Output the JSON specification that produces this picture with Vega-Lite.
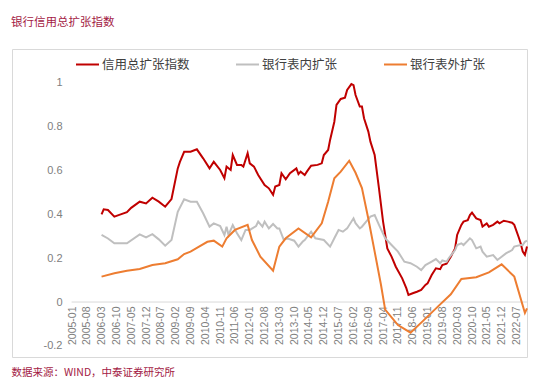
{
  "$schema": "https://vega.github.io/schema/vega-lite/v6.json",
  "width": 515,
  "height": 308,
  "autosize": "none",
  "padding": {"left": 12, "top": 49, "right": 23, "bottom": 24},
  "background": "white",
  "title": {"text": "银行信用总扩张指数", "anchor": "start", "frame": "group", "offset": 21, "fontSize": 11.5, "fontWeight": "normal", "color": "#A31A44", "font": "Noto Sans CJK SC", "dx": -1},
  "config": {"view": {"stroke": "#D9D9D9", "strokeWidth": 1}, "font": "Liberation Sans"},
  "encoding": {
    "x": {
      "field": "d", "type": "temporal",
      "scale": {"type": "utc", "domain": [{"year": 2002, "month": 8, "date": 21, "utc": true}, {"year": 2022, "month": 12, "date": 1, "utc": true}]},
      "axis": {
        "values": [
          {"year":2005,"month":1,"utc":true},{"year":2005,"month":8,"utc":true},{"year":2006,"month":3,"utc":true},{"year":2006,"month":10,"utc":true},
          {"year":2007,"month":5,"utc":true},{"year":2007,"month":12,"utc":true},{"year":2008,"month":7,"utc":true},{"year":2009,"month":2,"utc":true},
          {"year":2009,"month":9,"utc":true},{"year":2010,"month":4,"utc":true},{"year":2010,"month":11,"utc":true},{"year":2011,"month":6,"utc":true},
          {"year":2012,"month":1,"utc":true},{"year":2012,"month":8,"utc":true},{"year":2013,"month":3,"utc":true},{"year":2013,"month":10,"utc":true},
          {"year":2014,"month":5,"utc":true},{"year":2014,"month":12,"utc":true},{"year":2015,"month":7,"utc":true},{"year":2016,"month":2,"utc":true},
          {"year":2016,"month":9,"utc":true},{"year":2017,"month":4,"utc":true},{"year":2017,"month":11,"utc":true},{"year":2018,"month":6,"utc":true},
          {"year":2019,"month":1,"utc":true},{"year":2019,"month":8,"utc":true},{"year":2020,"month":3,"utc":true},{"year":2020,"month":10,"utc":true},
          {"year":2021,"month":5,"utc":true},{"year":2021,"month":12,"utc":true},{"year":2022,"month":7,"utc":true}
        ],
        "format": "%Y-%m",
        "labelAngle": -90,
        "offset": -55,
        "domain": false,
        "ticks": false,
        "grid": false,
        "labelPadding": 4,
        "labelFontSize": 10.5,
        "labelColor": "#808080",
        "labelFont": "Liberation Sans",
        "labelOverlap": false,
        "labelSeparation": 0,
        "labelFlush": false,
        "labelBound": false,
        "title": "数据来源：WIND，中泰证券研究所",
        "titleFont": "Noto Sans CJK SC",
        "titleFontSize": 10.5,
        "titleFontWeight": "normal",
        "titleColor": "#A31A44",
        "titleAnchor": "start",
        "titleAlign": "left",
        "titleBaseline": "middle",
        "titleX": -1,
        "titleY": 70
      }
    }
  },
  "layer": [
    {
      "data": {"values": [{"d": "2004-12-25", "d2": "2022-12-01"}]},
      "mark": {"type": "rule", "color": "#D9D9D9", "strokeWidth": 1},
      "encoding": {
        "x2": {"field": "d2"},
        "y": {"datum": 0, "type": "quantitative"}
      }
    },
    {
      "data": {"values": [
        {"d":"2006-03-01","s":"信用总扩张指数","v":0.40},
        {"d":"2006-04-01","s":"信用总扩张指数","v":0.423},
        {"d":"2006-06-01","s":"信用总扩张指数","v":0.42},
        {"d":"2006-09-01","s":"信用总扩张指数","v":0.39},
        {"d":"2006-12-01","s":"信用总扩张指数","v":0.40},
        {"d":"2007-03-01","s":"信用总扩张指数","v":0.41},
        {"d":"2007-05-01","s":"信用总扩张指数","v":0.43},
        {"d":"2007-09-01","s":"信用总扩张指数","v":0.458},
        {"d":"2007-12-01","s":"信用总扩张指数","v":0.45},
        {"d":"2008-03-01","s":"信用总扩张指数","v":0.476},
        {"d":"2008-06-01","s":"信用总扩张指数","v":0.458},
        {"d":"2008-09-01","s":"信用总扩张指数","v":0.435},
        {"d":"2008-12-01","s":"信用总扩张指数","v":0.47},
        {"d":"2009-03-01","s":"信用总扩张指数","v":0.61},
        {"d":"2009-04-01","s":"信用总扩张指数","v":0.64},
        {"d":"2009-06-01","s":"信用总扩张指数","v":0.686},
        {"d":"2009-09-01","s":"信用总扩张指数","v":0.686},
        {"d":"2009-12-01","s":"信用总扩张指数","v":0.697},
        {"d":"2010-03-01","s":"信用总扩张指数","v":0.656},
        {"d":"2010-06-01","s":"信用总扩张指数","v":0.61},
        {"d":"2010-08-01","s":"信用总扩张指数","v":0.64},
        {"d":"2010-11-01","s":"信用总扩张指数","v":0.603},
        {"d":"2011-01-01","s":"信用总扩张指数","v":0.565},
        {"d":"2011-02-01","s":"信用总扩张指数","v":0.618},
        {"d":"2011-04-01","s":"信用总扩张指数","v":0.603},
        {"d":"2011-05-01","s":"信用总扩张指数","v":0.671},
        {"d":"2011-07-01","s":"信用总扩张指数","v":0.626},
        {"d":"2011-09-01","s":"信用总扩张指数","v":0.626},
        {"d":"2011-10-01","s":"信用总扩张指数","v":0.618},
        {"d":"2011-12-01","s":"信用总扩张指数","v":0.679},
        {"d":"2012-01-01","s":"信用总扩张指数","v":0.633},
        {"d":"2012-03-01","s":"信用总扩张指数","v":0.618},
        {"d":"2012-05-01","s":"信用总扩张指数","v":0.58},
        {"d":"2012-08-01","s":"信用总扩张指数","v":0.534},
        {"d":"2012-10-01","s":"信用总扩张指数","v":0.519},
        {"d":"2012-12-01","s":"信用总扩张指数","v":0.489},
        {"d":"2013-01-01","s":"信用总扩张指数","v":0.527},
        {"d":"2013-03-01","s":"信用总扩张指数","v":0.534},
        {"d":"2013-04-01","s":"信用总扩张指数","v":0.588},
        {"d":"2013-06-01","s":"信用总扩张指数","v":0.56},
        {"d":"2013-08-01","s":"信用总扩张指数","v":0.588},
        {"d":"2013-11-01","s":"信用总扩张指数","v":0.61},
        {"d":"2013-12-01","s":"信用总扩张指数","v":0.584},
        {"d":"2014-01-01","s":"信用总扩张指数","v":0.595},
        {"d":"2014-03-01","s":"信用总扩张指数","v":0.58},
        {"d":"2014-04-01","s":"信用总扩张指数","v":0.595},
        {"d":"2014-06-01","s":"信用总扩张指数","v":0.622},
        {"d":"2014-09-01","s":"信用总扩张指数","v":0.626},
        {"d":"2014-11-01","s":"信用总扩张指数","v":0.633},
        {"d":"2014-12-01","s":"信用总扩张指数","v":0.671},
        {"d":"2015-02-01","s":"信用总扩张指数","v":0.694},
        {"d":"2015-03-01","s":"信用总扩张指数","v":0.74},
        {"d":"2015-05-01","s":"信用总扩张指数","v":0.823},
        {"d":"2015-06-01","s":"信用总扩张指数","v":0.9},
        {"d":"2015-08-01","s":"信用总扩张指数","v":0.927},
        {"d":"2015-10-01","s":"信用总扩张指数","v":0.933},
        {"d":"2015-11-01","s":"信用总扩张指数","v":0.968},
        {"d":"2016-01-01","s":"信用总扩张指数","v":0.995},
        {"d":"2016-02-01","s":"信用总扩张指数","v":0.99},
        {"d":"2016-03-01","s":"信用总扩张指数","v":0.945},
        {"d":"2016-05-01","s":"信用总扩张指数","v":0.892},
        {"d":"2016-06-01","s":"信用总扩张指数","v":0.892},
        {"d":"2016-07-01","s":"信用总扩张指数","v":0.839},
        {"d":"2016-09-01","s":"信用总扩张指数","v":0.778},
        {"d":"2016-10-01","s":"信用总扩张指数","v":0.732},
        {"d":"2016-12-01","s":"信用总扩张指数","v":0.671},
        {"d":"2017-02-01","s":"信用总扩张指数","v":0.519},
        {"d":"2017-04-01","s":"信用总扩张指数","v":0.367},
        {"d":"2017-06-01","s":"信用总扩张指数","v":0.245},
        {"d":"2017-08-01","s":"信用总扩张指数","v":0.207},
        {"d":"2017-10-01","s":"信用总扩张指数","v":0.161},
        {"d":"2018-01-01","s":"信用总扩张指数","v":0.108},
        {"d":"2018-03-01","s":"信用总扩张指数","v":0.063},
        {"d":"2018-04-01","s":"信用总扩张指数","v":0.032},
        {"d":"2018-06-01","s":"信用总扩张指数","v":0.04},
        {"d":"2018-08-01","s":"信用总扩张指数","v":0.047},
        {"d":"2018-10-01","s":"信用总扩张指数","v":0.055},
        {"d":"2018-12-01","s":"信用总扩张指数","v":0.078},
        {"d":"2019-01-01","s":"信用总扩张指数","v":0.085},
        {"d":"2019-03-01","s":"信用总扩张指数","v":0.123},
        {"d":"2019-05-01","s":"信用总扩张指数","v":0.154},
        {"d":"2019-07-01","s":"信用总扩张指数","v":0.15},
        {"d":"2019-08-01","s":"信用总扩张指数","v":0.169},
        {"d":"2019-10-01","s":"信用总扩张指数","v":0.175},
        {"d":"2019-12-01","s":"信用总扩张指数","v":0.207},
        {"d":"2020-02-01","s":"信用总扩张指数","v":0.245},
        {"d":"2020-03-01","s":"信用总扩张指数","v":0.306},
        {"d":"2020-05-01","s":"信用总扩张指数","v":0.352},
        {"d":"2020-06-01","s":"信用总扩张指数","v":0.367},
        {"d":"2020-08-01","s":"信用总扩张指数","v":0.374},
        {"d":"2020-09-01","s":"信用总扩张指数","v":0.397},
        {"d":"2020-10-01","s":"信用总扩张指数","v":0.408},
        {"d":"2020-12-01","s":"信用总扩张指数","v":0.382},
        {"d":"2021-02-01","s":"信用总扩张指数","v":0.374},
        {"d":"2021-03-01","s":"信用总扩张指数","v":0.344},
        {"d":"2021-05-01","s":"信用总扩张指数","v":0.359},
        {"d":"2021-06-01","s":"信用总扩张指数","v":0.344},
        {"d":"2021-08-01","s":"信用总扩张指数","v":0.352},
        {"d":"2021-10-01","s":"信用总扩张指数","v":0.367},
        {"d":"2021-11-01","s":"信用总扩张指数","v":0.359},
        {"d":"2022-01-01","s":"信用总扩张指数","v":0.371},
        {"d":"2022-03-01","s":"信用总扩张指数","v":0.367},
        {"d":"2022-05-01","s":"信用总扩张指数","v":0.362},
        {"d":"2022-06-01","s":"信用总扩张指数","v":0.352},
        {"d":"2022-08-01","s":"信用总扩张指数","v":0.298},
        {"d":"2022-09-01","s":"信用总扩张指数","v":0.268},
        {"d":"2022-10-01","s":"信用总扩张指数","v":0.23},
        {"d":"2022-11-01","s":"信用总扩张指数","v":0.215},
        {"d":"2022-12-01","s":"信用总扩张指数","v":0.253},

        {"d":"2006-03-01","s":"银行表内扩张","v":0.306},
        {"d":"2006-06-01","s":"银行表内扩张","v":0.29},
        {"d":"2006-09-01","s":"银行表内扩张","v":0.268},
        {"d":"2007-03-01","s":"银行表内扩张","v":0.268},
        {"d":"2007-09-01","s":"银行表内扩张","v":0.309},
        {"d":"2007-12-01","s":"银行表内扩张","v":0.295},
        {"d":"2008-03-01","s":"银行表内扩张","v":0.31},
        {"d":"2008-06-01","s":"银行表内扩张","v":0.286},
        {"d":"2008-09-01","s":"银行表内扩张","v":0.257},
        {"d":"2008-12-01","s":"银行表内扩张","v":0.283},
        {"d":"2009-03-01","s":"银行表内扩张","v":0.412},
        {"d":"2009-06-01","s":"银行表内扩张","v":0.469},
        {"d":"2009-09-01","s":"银行表内扩张","v":0.458},
        {"d":"2009-12-01","s":"银行表内扩张","v":0.458},
        {"d":"2010-03-01","s":"银行表内扩张","v":0.405},
        {"d":"2010-06-01","s":"银行表内扩张","v":0.344},
        {"d":"2010-08-01","s":"银行表内扩张","v":0.359},
        {"d":"2010-11-01","s":"银行表内扩张","v":0.347},
        {"d":"2011-01-01","s":"银行表内扩张","v":0.306},
        {"d":"2011-02-01","s":"银行表内扩张","v":0.344},
        {"d":"2011-03-01","s":"银行表内扩张","v":0.306},
        {"d":"2011-05-01","s":"银行表内扩张","v":0.351},
        {"d":"2011-07-01","s":"银行表内扩张","v":0.314},
        {"d":"2011-09-01","s":"银行表内扩张","v":0.283},
        {"d":"2011-11-01","s":"银行表内扩张","v":0.329},
        {"d":"2012-01-01","s":"银行表内扩张","v":0.329},
        {"d":"2012-04-01","s":"银行表内扩张","v":0.347},
        {"d":"2012-05-01","s":"银行表内扩张","v":0.367},
        {"d":"2012-07-01","s":"银行表内扩张","v":0.344},
        {"d":"2012-08-01","s":"银行表内扩张","v":0.367},
        {"d":"2012-10-01","s":"银行表内扩张","v":0.336},
        {"d":"2012-12-01","s":"银行表内扩张","v":0.356},
        {"d":"2013-02-01","s":"银行表内扩张","v":0.336},
        {"d":"2013-03-01","s":"银行表内扩张","v":0.336},
        {"d":"2013-05-01","s":"银行表内扩张","v":0.286},
        {"d":"2013-07-01","s":"银行表内扩张","v":0.29},
        {"d":"2013-10-01","s":"银行表内扩张","v":0.28},
        {"d":"2013-12-01","s":"银行表内扩张","v":0.253},
        {"d":"2014-02-01","s":"银行表内扩张","v":0.276},
        {"d":"2014-03-01","s":"银行表内扩张","v":0.283},
        {"d":"2014-06-01","s":"银行表内扩张","v":0.321},
        {"d":"2014-08-01","s":"银行表内扩张","v":0.291},
        {"d":"2014-12-01","s":"银行表内扩张","v":0.283},
        {"d":"2015-03-01","s":"银行表内扩张","v":0.253},
        {"d":"2015-05-01","s":"银行表内扩张","v":0.291},
        {"d":"2015-07-01","s":"银行表内扩张","v":0.329},
        {"d":"2015-09-01","s":"银行表内扩张","v":0.321},
        {"d":"2015-11-01","s":"银行表内扩张","v":0.336},
        {"d":"2016-02-01","s":"银行表内扩张","v":0.382},
        {"d":"2016-03-01","s":"银行表内扩张","v":0.36},
        {"d":"2016-05-01","s":"银行表内扩张","v":0.336},
        {"d":"2016-06-01","s":"银行表内扩张","v":0.344},
        {"d":"2016-08-01","s":"银行表内扩张","v":0.367},
        {"d":"2016-10-01","s":"银行表内扩张","v":0.39},
        {"d":"2016-12-01","s":"银行表内扩张","v":0.397},
        {"d":"2017-02-01","s":"银行表内扩张","v":0.352},
        {"d":"2017-05-01","s":"银行表内扩张","v":0.291},
        {"d":"2017-08-01","s":"银行表内扩张","v":0.26},
        {"d":"2017-11-01","s":"银行表内扩张","v":0.23},
        {"d":"2018-02-01","s":"银行表内扩张","v":0.184},
        {"d":"2018-05-01","s":"银行表内扩张","v":0.177},
        {"d":"2018-08-01","s":"银行表内扩张","v":0.161},
        {"d":"2018-10-01","s":"银行表内扩张","v":0.146},
        {"d":"2018-12-01","s":"银行表内扩张","v":0.169},
        {"d":"2019-03-01","s":"银行表内扩张","v":0.184},
        {"d":"2019-05-01","s":"银行表内扩张","v":0.196},
        {"d":"2019-07-01","s":"银行表内扩张","v":0.177},
        {"d":"2019-08-01","s":"银行表内扩张","v":0.19},
        {"d":"2019-10-01","s":"银行表内扩张","v":0.184},
        {"d":"2019-11-01","s":"银行表内扩张","v":0.2},
        {"d":"2020-02-01","s":"银行表内扩张","v":0.237},
        {"d":"2020-03-01","s":"银行表内扩张","v":0.26},
        {"d":"2020-05-01","s":"银行表内扩张","v":0.268},
        {"d":"2020-06-01","s":"银行表内扩张","v":0.26},
        {"d":"2020-08-01","s":"银行表内扩张","v":0.28},
        {"d":"2020-09-01","s":"银行表内扩张","v":0.291},
        {"d":"2020-10-01","s":"银行表内扩张","v":0.283},
        {"d":"2020-12-01","s":"银行表内扩张","v":0.245},
        {"d":"2021-02-01","s":"银行表内扩张","v":0.253},
        {"d":"2021-03-01","s":"银行表内扩张","v":0.23},
        {"d":"2021-05-01","s":"银行表内扩张","v":0.207},
        {"d":"2021-08-01","s":"银行表内扩张","v":0.214},
        {"d":"2021-10-01","s":"银行表内扩张","v":0.192},
        {"d":"2021-12-01","s":"银行表内扩张","v":0.207},
        {"d":"2022-02-01","s":"银行表内扩张","v":0.222},
        {"d":"2022-05-01","s":"银行表内扩张","v":0.237},
        {"d":"2022-06-01","s":"银行表内扩张","v":0.253},
        {"d":"2022-09-01","s":"银行表内扩张","v":0.26},
        {"d":"2022-10-01","s":"银行表内扩张","v":0.26},
        {"d":"2022-11-01","s":"银行表内扩张","v":0.275},
        {"d":"2022-12-01","s":"银行表内扩张","v":0.28},

        {"d":"2006-03-01","s":"银行表外扩张","v":0.116},
        {"d":"2006-09-01","s":"银行表外扩张","v":0.131},
        {"d":"2007-03-01","s":"银行表外扩张","v":0.143},
        {"d":"2007-09-01","s":"银行表外扩张","v":0.151},
        {"d":"2008-03-01","s":"银行表外扩张","v":0.169},
        {"d":"2008-09-01","s":"银行表外扩张","v":0.177},
        {"d":"2009-03-01","s":"银行表外扩张","v":0.195},
        {"d":"2009-06-01","s":"银行表外扩张","v":0.219},
        {"d":"2009-09-01","s":"银行表外扩张","v":0.23},
        {"d":"2010-01-01","s":"银行表外扩张","v":0.253},
        {"d":"2010-05-01","s":"银行表外扩张","v":0.275},
        {"d":"2010-08-01","s":"银行表外扩张","v":0.28},
        {"d":"2010-12-01","s":"银行表外扩张","v":0.253},
        {"d":"2011-02-01","s":"银行表外扩张","v":0.291},
        {"d":"2011-06-01","s":"银行表外扩张","v":0.329},
        {"d":"2011-12-01","s":"银行表外扩张","v":0.352},
        {"d":"2012-02-01","s":"银行表外扩张","v":0.283},
        {"d":"2012-06-01","s":"银行表外扩张","v":0.207},
        {"d":"2012-12-01","s":"银行表外扩张","v":0.143},
        {"d":"2013-03-01","s":"银行表外扩张","v":0.253},
        {"d":"2013-06-01","s":"银行表外扩张","v":0.291},
        {"d":"2013-12-01","s":"银行表外扩张","v":0.336},
        {"d":"2014-06-01","s":"银行表外扩张","v":0.295},
        {"d":"2014-11-01","s":"银行表外扩张","v":0.359},
        {"d":"2015-02-01","s":"银行表外扩张","v":0.458},
        {"d":"2015-05-01","s":"银行表外扩张","v":0.565},
        {"d":"2015-08-01","s":"银行表外扩张","v":0.595},
        {"d":"2015-12-01","s":"银行表外扩张","v":0.645},
        {"d":"2016-03-01","s":"银行表外扩张","v":0.59},
        {"d":"2016-06-01","s":"银行表外扩张","v":0.52},
        {"d":"2016-09-01","s":"银行表外扩张","v":0.38},
        {"d":"2016-12-01","s":"银行表外扩张","v":0.23},
        {"d":"2017-03-01","s":"银行表外扩张","v":0.08},
        {"d":"2017-05-01","s":"银行表外扩张","v":-0.035},
        {"d":"2017-11-01","s":"银行表外扩张","v":-0.105},
        {"d":"2018-05-01","s":"银行表外扩张","v":-0.14},
        {"d":"2018-11-01","s":"银行表外扩张","v":-0.085},
        {"d":"2019-06-01","s":"银行表外扩张","v":-0.02},
        {"d":"2019-12-01","s":"银行表外扩张","v":0.035},
        {"d":"2020-05-01","s":"银行表外扩张","v":0.105},
        {"d":"2020-12-01","s":"银行表外扩张","v":0.113},
        {"d":"2021-06-01","s":"银行表外扩张","v":0.135},
        {"d":"2021-12-01","s":"银行表外扩张","v":0.172},
        {"d":"2022-06-01","s":"银行表外扩张","v":0.116},
        {"d":"2022-11-01","s":"银行表外扩张","v":-0.05},
        {"d":"2022-12-01","s":"银行表外扩张","v":-0.029}
      ]},
      "mark": {"type": "line", "strokeWidth": 2},
      "encoding": {
        "y": {
          "field": "v", "type": "quantitative",
          "scale": {"domain": [-0.251, 1.155], "nice": false, "zero": false},
          "axis": {
            "values": [-0.2, 0, 0.2, 0.4, 0.6, 0.8, 1],
            "format": "~g",
            "labelExpr": "replace(datum.label, '−', '-')",
            "title": null,
            "domain": false,
            "ticks": false,
            "grid": false,
            "offset": -50,
            "labelPadding": 0,
            "labelFontSize": 11,
            "labelColor": "#808080",
            "labelFont": "Liberation Sans"
          }
        },
        "color": {
          "field": "s", "type": "nominal",
          "scale": {"domain": ["信用总扩张指数", "银行表内扩张", "银行表外扩张"], "range": ["#C00000", "#BFBFBF", "#ED7D31"]},
          "legend": {
            "orient": "none",
            "legendX": 63,
            "legendY": 3,
            "direction": "horizontal",
            "title": null,
            "symbolType": "stroke",
            "symbolStrokeWidth": 2,
            "symbolSize": 529,
            "labelFontSize": 12.5,
            "labelFont": "Noto Sans CJK SC",
            "labelColor": "#404040",
            "labelOffset": 2,
            "columnPadding": 42,
            "padding": 0
          }
        }
      }
    }
  ]
}
